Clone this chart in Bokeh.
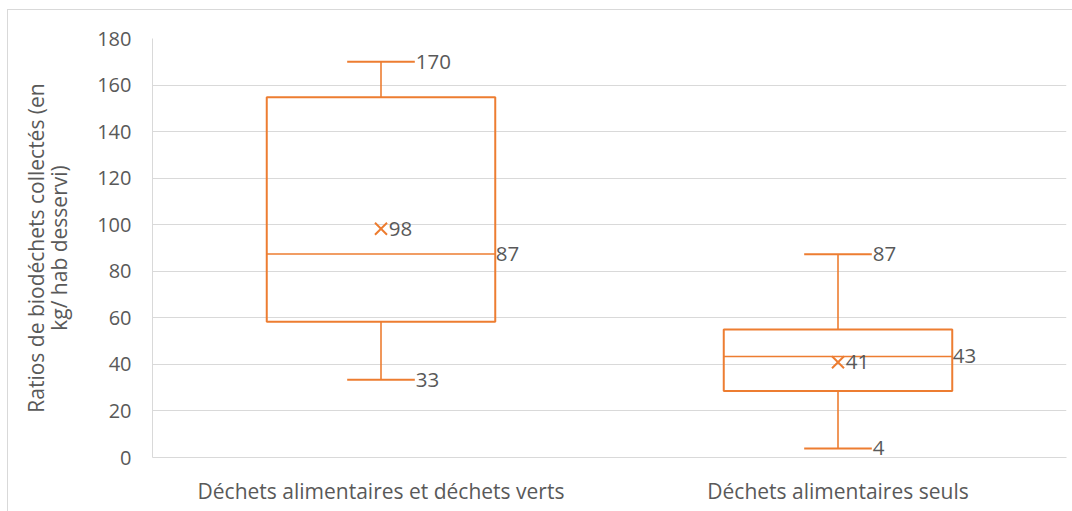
from bokeh.plotting import figure
from bokeh.models import ColumnDataSource, FactorRange, Range1d, FixedTicker, LinearAxis
from bokeh.transform import dodge
from bokeh.core.properties import value
from bokeh.embed import file_html
from bokeh.resources import INLINE

# ---- data ----
categories = ["Déchets alimentaires et déchets verts", "Déchets alimentaires seuls"]
q1 = [58.3, 28.6]
median = [87.4, 43.4]
q3 = [154.8, 55.0]
whisker_low = [33.4, 3.9]
whisker_high = [170.0, 87.3]
mean = [98.3, 40.9]
y_ticks = [0, 20, 40, 60, 80, 100, 120, 140, 160, 180]
y_title_lines = ["Ratios de biodéchets collectés (en", "kg/ hab desservi)"]

ORANGE = "#ED7D31"
TEXT = "#595959"
GRID = "#d9d9d9"
FONT = "Open Sans"

src = ColumnDataSource(dict(
    cat=categories, q1=q1, median=median, q3=q3,
    low=whisker_low, high=whisker_high, mean=mean,
    low_lbl=[f"{v:.0f}" for v in whisker_low],
    high_lbl=[f"{v:.0f}" for v in whisker_high],
    med_lbl=[f"{v:.0f}" for v in median],
    mean_lbl=[f"{v:.0f}" for v in mean],
))

chart_border = ("linear-gradient(#d9d9d9,#d9d9d9) 7px 9px / 1px 100% no-repeat, "
                "linear-gradient(#d9d9d9,#d9d9d9) 7px 9px / 100% 1px no-repeat, white")

p = figure(
    x_range=FactorRange(*categories, range_padding=0),
    y_range=Range1d(0, 180),
    width=1072, height=511,
    output_backend="svg", toolbar_location=None,
    min_border_left=152, min_border_right=6,
    min_border_top=38, min_border_bottom=54,
    styles={"background": chart_border},
)
p.outline_line_color = None
p.background_fill_color = "white"
p.border_fill_color = None

# grid / axes
p.xgrid.grid_line_color = None
p.ygrid.grid_line_color = GRID
p.ygrid.grid_line_width = 1
p.yaxis.ticker = FixedTicker(ticks=y_ticks)
for ax in (p.xaxis[0], p.yaxis[0]):
    ax.axis_line_color = GRID
    ax.major_tick_line_color = None
    ax.minor_tick_line_color = None
    ax.major_label_text_font = FONT
    ax.major_label_text_color = TEXT
p.yaxis.major_label_text_font_size = "20px"
p.xaxis.major_label_text_font_size = "21px"
p.yaxis.major_label_standoff = 15
p.xaxis.major_label_standoff = 13

title_kw = dict(axis_label_text_font=FONT, axis_label_text_font_size="21px",
                axis_label_text_font_style="normal", axis_label_text_color=TEXT)
# inner line of the y title on the main axis
p.yaxis.axis_label = y_title_lines[1]
p.yaxis.axis_label_standoff = 21
for k, v in title_kw.items():
    setattr(p.yaxis[0], k, v)
# outer line of the y title on a bare extra axis
outer = LinearAxis(ticker=FixedTicker(ticks=[]), axis_line_color=None,
                   major_tick_line_color=None, minor_tick_line_color=None,
                   major_tick_out=0, major_tick_in=0, minor_tick_out=0, minor_tick_in=0,
                   major_label_text_font_size="0px", major_label_standoff=0,
                   axis_label=y_title_lines[0], axis_label_standoff=-7, **title_kw)
p.add_layout(outer, "left")

BOX_W = 0.5
CAP = 0.074

# box
p.vbar(x="cat", bottom="q1", top="q3", width=BOX_W, source=src,
       fill_color=None, line_color=ORANGE, line_width=2)
# median
p.segment(x0=dodge("cat", -BOX_W / 2, range=p.x_range), x1=dodge("cat", BOX_W / 2, range=p.x_range),
          y0="median", y1="median", source=src, line_color=ORANGE, line_width=1.6)
# whiskers
p.segment(x0="cat", x1="cat", y0="q3", y1="high", source=src, line_color=ORANGE, line_width=1.6)
p.segment(x0="cat", x1="cat", y0="q1", y1="low", source=src, line_color=ORANGE, line_width=1.6)
p.segment(x0=dodge("cat", -CAP, range=p.x_range), x1=dodge("cat", CAP, range=p.x_range),
          y0="high", y1="high", source=src, line_color=ORANGE, line_width=2)
p.segment(x0=dodge("cat", -CAP, range=p.x_range), x1=dodge("cat", CAP, range=p.x_range),
          y0="low", y1="low", source=src, line_color=ORANGE, line_width=2)
# mean
p.scatter(x="cat", y="mean", source=src, marker="x", size=17,
          line_color=ORANGE, line_width=2)

# labels
lbl_kw = dict(source=src, text_align="left", text_baseline="middle",
              text_font=value(FONT), text_font_size="20.5px", text_color=TEXT)
p.text(x=dodge("cat", CAP + 0.002, range=p.x_range), y="high", text="high_lbl", **lbl_kw)
p.text(x=dodge("cat", CAP + 0.002, range=p.x_range), y="low", text="low_lbl", **lbl_kw)
p.text(x=dodge("cat", BOX_W / 2 + 0.001, range=p.x_range), y="median", text="med_lbl", **lbl_kw)
p.text(x=dodge("cat", 0.017, range=p.x_range), y="mean", text="mean_lbl", **lbl_kw)

open("out.html", "w").write(file_html(p, INLINE))
